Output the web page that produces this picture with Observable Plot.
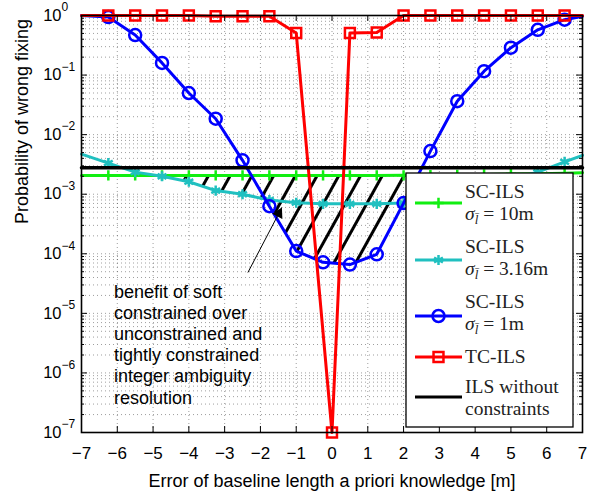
<!DOCTYPE html>
<html><head><meta charset="utf-8">
<script src="https://cdn.jsdelivr.net/npm/d3@7"></script>
<script src="https://cdn.jsdelivr.net/npm/@observablehq/plot@0.6"></script>
<style>html,body{margin:0;padding:0;background:#fff}</style>
</head><body><div id="chart"></div>
<script>
// ---- data ----
const xMarkers = [-6.25,-5.5,-4.75,-4,-3.25,-2.5,-1.75,-1,-0.25,0.5,1.25,2,2.75,3.5,4.25,5,5.75,6.5];
const sc10  = [2.07e-3,2.07e-3,2.07e-3,2.07e-3,2.07e-3,2.07e-3,2.07e-3,2.07e-3,2.07e-3,2.07e-3,2.07e-3,2.08e-3,2.1e-3,2.12e-3,2.15e-3,2.18e-3,2.2e-3,2.25e-3];
const sc10Edges = [2.07e-3, 2.3e-3];
const sc316 = [3.33e-3,2.35e-3,2.0e-3,1.62e-3,1.15e-3,1.0e-3,8.0e-4,7.2e-4,6.9e-4,6.9e-4,6.9e-4,7.1e-4,8.5e-4,1.05e-3,1.4e-3,1.8e-3,2.35e-3,3.5e-3];
const sc316Edges = [4.7e-3, 4.5e-3];
const sc1   = [0.94,0.47,0.16,0.050,0.0185,0.0037,6.3e-4,1.11e-4,7.2e-5,6.6e-5,9.8e-5,7.1e-4,0.0053,0.0364,0.116,0.288,0.575,0.85];
const sc1Edges = [1.0, 0.97];
const xTC   = [-6.25,-5.5,-4.75,-4,-3.25,-2.5,-1.75,-1,0,0.5,1.25,2,2.75,3.5,4.25,5,5.75,6.5];
const tc    = [1,1,1,1,0.97,0.97,0.97,0.51,1e-7,0.51,0.52,1,1,1,1,1,1,1];
const tcEdges = [1.0, 1.0];
const ilsLevel = 2.78e-3;
const xRange = [-7, 7];
// hatched "benefit" region
const hatchX      = [-4.9,-4,-3.25,-2.5,-1.85,-1.75,-1,-0.25,0.5,1.25,2,2.75,3.5,4.25,5,5.3];
const hatchBottom = [2.07e-3,1.62e-3,1.15e-3,1.0e-3,8.2e-4,6.3e-4,1.11e-4,7.2e-5,6.6e-5,9.8e-5,7.1e-4,8.5e-4,1.05e-3,1.4e-3,1.8e-3,2.15e-3];
const hatchTop    = [2.07e-3,2.07e-3,2.07e-3,2.07e-3,2.07e-3,2.07e-3,2.07e-3,2.07e-3,2.07e-3,2.07e-3,2.08e-3,2.1e-3,2.12e-3,2.15e-3,2.18e-3,2.15e-3];
// ticks
const xTicks = [-7,-6,-5,-4,-3,-2,-1,0,1,2,3,4,5,6,7];
const yExponents = [0,-1,-2,-3,-4,-5,-6,-7];
// annotation
const noteText = "benefit of soft\nconstrained over\nunconstrained and\ntightly constrained\ninteger ambiguity\nresolution";
const notePos = {x: -6.09, y: 3.2e-5};
const arrowFrom = {x: -2.35, y: 4.85e-5};
const arrowTo   = {x: -1.40, y: 5.98e-4};
const legendItems = [
  {name: "SC-ILS", sub: "10m", color: "#11ee11", symbol: "plus", r: 3.4},
  {name: "SC-ILS", sub: "3.16m", color: "#20c0c0", symbol: "asterisk", r: 4.8},
  {name: "SC-ILS", sub: "1m", color: "#0000ff", symbol: "circle", r: 6},
  {name: "TC-ILS", sub: null, color: "#ff0000", symbol: "square", r: 5.6},
  {name: "ILS without", name2: "constraints", color: "#000000", symbol: null}
];
const xLabel = "Error of baseline length a priori knowledge [m]";
const yLabel = "Probability of wrong fixing";

// ---- build tables ----
const series = (xs, ys, edges) => [{x: xRange[0], y: edges[0]}, ...xs.map((x, i) => ({x, y: ys[i]})), {x: xRange[1], y: edges[1]}];
const pts = (xs, ys) => xs.map((x, i) => ({x, y: ys[i]}));
const yMajor = yExponents.map(e => Math.pow(10, e));
const yMinor = [];
for (const e of yExponents.slice(1)) for (let m = 2; m <= 9; m++) yMinor.push(m * Math.pow(10, e));
const hatch = hatchX.map((x, i) => ({x, y1: hatchBottom[i], y2: hatchTop[i]}));
const ils = xRange.map(x => ({x, y: ilsLevel}));

const W = 601, H = 492, mL = 81, mR = 19, mT = 15, mB = 60;
const iw = W - mL - mR, ih = H - mT - mB;
const sup = e => e === 0 ? "0" : "\u2212" + Math.abs(e);
const grid = {stroke: "#333", strokeOpacity: 0.6, strokeWidth: 0.8, strokeDasharray: "1,3"};

const lineSpec = [
  [series(xMarkers, sc10, sc10Edges), pts(xMarkers, sc10), legendItems[0]],
  [series(xMarkers, sc316, sc316Edges), pts(xMarkers, sc316), legendItems[1]],
  [series(xMarkers, sc1, sc1Edges), pts(xMarkers, sc1), legendItems[2]],
  [series(xTC, tc, tcEdges), pts(xTC, tc), legendItems[3]]
];
const lineMarks = [];
for (const [ln, mk, it] of lineSpec) {
  lineMarks.push(Plot.line(ln, {x: "x", y: "y", stroke: it.color, strokeWidth: 3}));
  lineMarks.push(Plot.dot(mk, {x: "x", y: "y", symbol: it.symbol, r: it.r, stroke: it.color, strokeWidth: 2.5, fill: "none"}));
}

const chart = Plot.plot({
  width: W, height: H, marginLeft: mL, marginRight: mR, marginTop: mT, marginBottom: mB,
  x: {domain: xRange, axis: null},
  y: {type: "log", domain: [1e-7, 1], axis: null},
  style: {fontFamily: "'Liberation Sans', Arial, sans-serif", fontSize: "17px", background: "white", overflow: "visible"},
  marks: [
    Plot.ruleX(xTicks.slice(1, -1), {x: d => d, ...grid}),
    Plot.ruleY(yMajor.slice(1), {y: d => d, ...grid}),
    Plot.ruleY(yMinor, {y: d => d, ...grid}),
    Plot.areaY(hatch, {x: "x", y1: "y1", y2: "y2", fill: "url(#hatch)"}),
    ...lineMarks,
    Plot.line(ils, {x: "x", y: "y", stroke: "black", strokeWidth: 3.5}),
    // ticks (inward)
    Plot.tickX(xTicks, {x: d => d, insetTop: ih - 6, stroke: "black", strokeWidth: 1}),
    Plot.tickX(xTicks, {x: d => d, insetBottom: ih - 6, stroke: "black", strokeWidth: 1}),
    Plot.tickY(yMajor, {y: d => d, insetRight: iw - 6, stroke: "black", strokeWidth: 1}),
    Plot.tickY(yMinor, {y: d => d, insetRight: iw - 3, stroke: "black", strokeWidth: 1}),
    Plot.tickY(yMajor, {y: d => d, insetLeft: iw - 6, stroke: "black", strokeWidth: 1}),
    Plot.tickY(yMinor, {y: d => d, insetLeft: iw - 3, stroke: "black", strokeWidth: 1}),
    Plot.frame({stroke: "black", strokeWidth: 1.6}),
    // axes labels
    Plot.axisX(xTicks, {anchor: "bottom", tickSize: 0, tickPadding: 14, fontSize: 17, label: null, tickFormat: d => (d < 0 ? "\u2212" : "") + Math.abs(d)}),
    Plot.text(yMajor, {y: d => d, frameAnchor: "left", text: () => "10", textAnchor: "end", dx: -20, fontSize: 16.5, fill: "black"}),
    Plot.text(yExponents, {y: d => Math.pow(10, d), frameAnchor: "left", text: d => sup(d), textAnchor: "start", dx: -20, dy: -8, fontSize: 12, fill: "black"}),
    Plot.text([xLabel], {frameAnchor: "bottom", text: d => d, dy: 54, fontSize: 18, fill: "black"}),
    Plot.text([yLabel], {frameAnchor: "left", text: d => d, rotate: -90, dx: -59, fontSize: 18, fill: "black"}),
    // annotation
    Plot.text([notePos], {x: "x", y: "y", text: () => noteText, textAnchor: "start", lineAnchor: "top", lineHeight: 1.17, fontSize: 18, fill: "black"}),
    Plot.link([{a: arrowFrom, b: arrowTo}], {x1: d => d.a.x, y1: d => d.a.y, x2: d => d.b.x, y2: d => d.b.y, stroke: "black", strokeWidth: 1}),
    Plot.dot([arrowTo], {x: "x", y: "y", symbol: "triangle", r: 4.3, fill: "black", stroke: "none", rotate: 27.6, dx: -3.1, dy: 5.9})
  ]
});

// hatch pattern
const svg = d3.select(chart);
const defs = svg.insert("defs", ":first-child");
defs.append("pattern").attr("id", "hatch").attr("patternUnits", "userSpaceOnUse")
  .attr("width", 19).attr("height", 10).attr("patternTransform", "rotate(29)")
  .append("rect").attr("x", 0).attr("y", 0).attr("width", 3).attr("height", 10).attr("fill", "black");

// legend
const lg = svg.append("g").attr("transform", "translate(406,173)").attr("text-anchor", "start");
lg.append("rect").attr("width", 167).attr("height", 254).attr("fill", "white").attr("stroke", "black").attr("stroke-width", 1.3);
const sampleY = [30, 87, 143, 184, 224];
const textY = [[25, 47], [80, 102], [135, 157], [190], [220, 242]];
const serif = "'Liberation Serif', 'Times New Roman', serif";
const symMap = {plus: d3.symbolPlus, asterisk: d3.symbolAsterisk, circle: d3.symbolCircle, square: d3.symbolSquare};
legendItems.forEach((it, i) => {
  const sy = sampleY[i];
  lg.append("line").attr("x1", 9).attr("x2", 56).attr("y1", sy).attr("y2", sy).attr("stroke", it.color).attr("stroke-width", 3);
  if (it.symbol) {
    lg.append("path").attr("d", d3.symbol(symMap[it.symbol], Math.PI * it.r * it.r)())
      .attr("transform", `translate(32.5,${sy})`).attr("fill", "none").attr("stroke", it.color).attr("stroke-width", 2.5);
  }
  lg.append("text").attr("x", 59).attr("y", textY[i][0]).attr("text-anchor", "start").attr("font-family", serif).attr("font-size", 19.5).attr("fill", "#222").text(it.name);
  if (it.sub) {
    const t = lg.append("text").attr("x", 59).attr("y", textY[i][1]).attr("text-anchor", "start").attr("font-family", serif).attr("font-size", 19.5).attr("fill", "#222");
    t.append("tspan").attr("font-style", "italic").text("σ");
    t.append("tspan").attr("font-style", "italic").attr("font-size", 13).attr("dy", 4).text("l\u0304");
    t.append("tspan").attr("dy", -4).text(" = " + it.sub);
  }
  if (it.name2) {
    lg.append("text").attr("x", 59).attr("y", textY[i][1]).attr("text-anchor", "start").attr("font-family", serif).attr("font-size", 19.5).attr("fill", "#222").text(it.name2);
  }
});

document.getElementById("chart").appendChild(chart);
</script></body></html>
